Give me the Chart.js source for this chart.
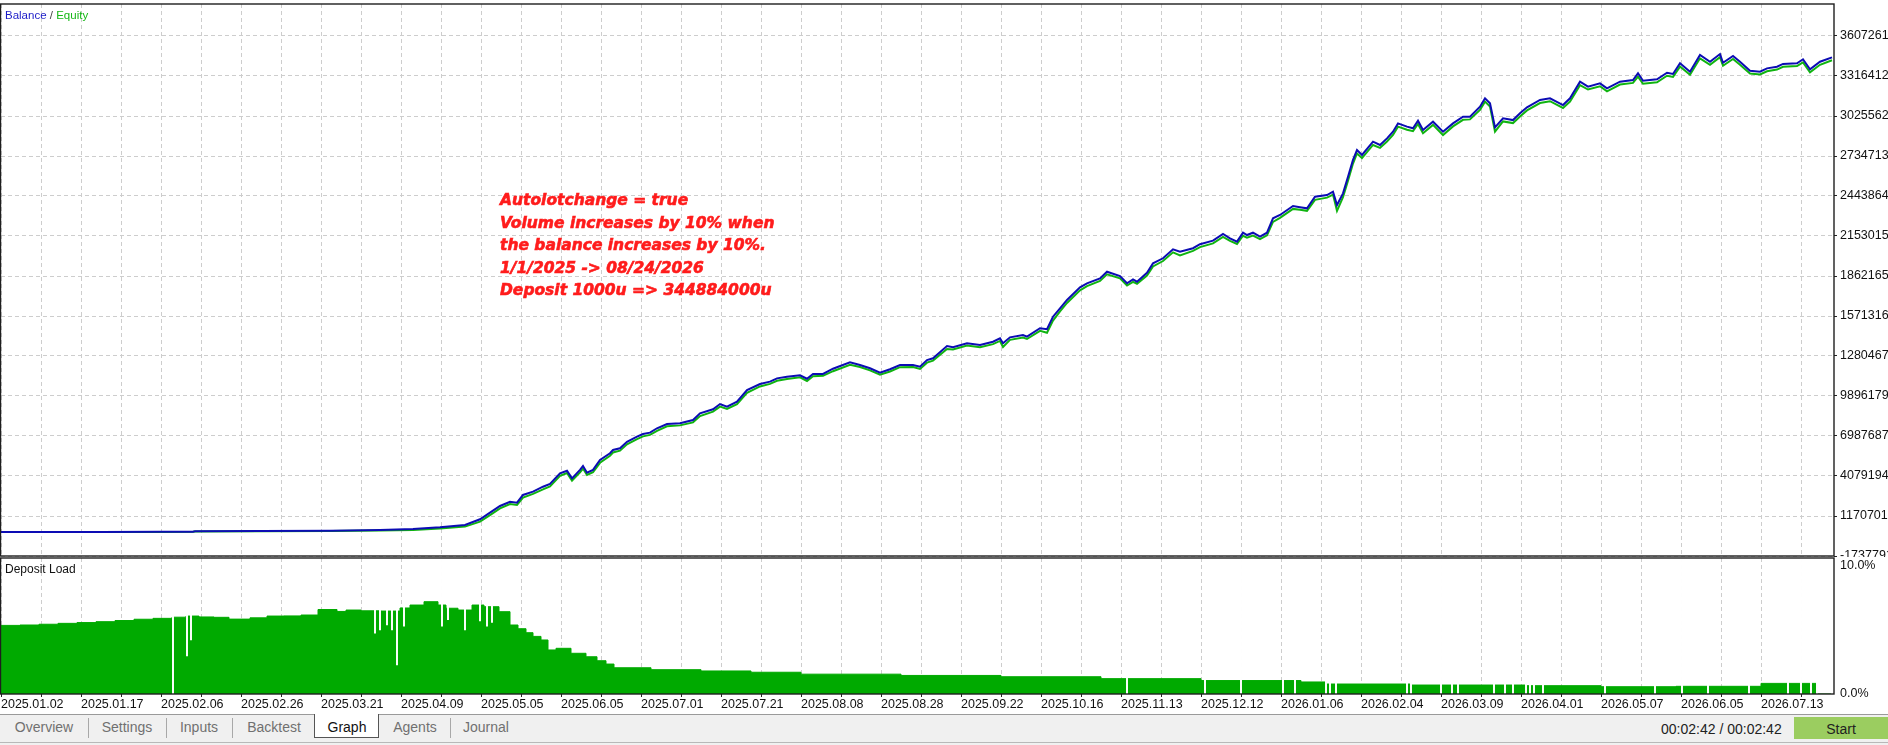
<!DOCTYPE html>
<html>
<head>
<meta charset="utf-8">
<script src="https://cdn.jsdelivr.net/npm/chart.js@4.4.1/dist/chart.umd.min.js"></script>
<style>
html,body{margin:0;padding:0;background:#fff;}
body{width:1888px;height:745px;position:relative;overflow:hidden;font-family:'Liberation Sans',Arial,sans-serif;}
#topWrap{position:absolute;left:0;top:0;width:1888px;height:557px;}
#botWrap{position:absolute;left:0;top:556px;width:1888px;height:157px;}
.lbl{position:absolute;white-space:nowrap;z-index:5;}
#legend{left:5px;top:8px;font-size:11.5px;line-height:14px;}
#note{left:500px;top:189px;font-family:'DejaVu Sans',sans-serif;font-weight:bold;font-style:italic;font-size:15.5px;line-height:22.5px;color:#ff1c1c;-webkit-text-stroke:0.6px #ff1c1c;}
#dl{left:5px;top:562px;font-size:12px;line-height:14px;color:#111;}
#tabbar{position:absolute;left:0;top:714px;width:1888px;height:31px;background:#f0f0f0;border-top:1px solid #9a9a9a;box-sizing:border-box;z-index:3;}
#tabbot{position:absolute;left:0;top:742px;width:1888px;height:1px;background:#b8b8b8;z-index:4;}
.tab{position:absolute;top:719px;width:110px;text-align:center;font-size:14px;line-height:16px;color:#707070;z-index:6;}
.sep{position:absolute;top:718px;width:1px;height:20px;background:#a8a8a8;z-index:6;}
#gtab{position:absolute;left:314px;top:714px;width:65px;height:24px;background:#fff;border-left:1px solid #555;border-right:1px solid #555;border-bottom:1px solid #555;box-sizing:border-box;z-index:5;}
#time{left:1661px;top:721px;font-size:14px;line-height:16px;color:#222;}
#start{position:absolute;left:1794px;top:717px;width:94px;height:22px;background:#9bcd60;text-align:center;font-size:14px;line-height:22px;padding-top:1px;box-sizing:border-box;color:#222;z-index:6;}
</style>
</head>
<body>
<div id="topWrap"><canvas id="cTop"></canvas></div>
<div id="botWrap"><canvas id="cBot"></canvas></div>

<div class="lbl" id="legend"><span style="color:#1c1cc8">Balance</span> <span style="color:#444">/</span> <span style="color:#16b816">Equity</span></div>
<div class="lbl" id="note">Autolotchange = true<br>Volume increases by 10% when<br>the balance increases by 10%.<br>1/1/2025 -&gt; 08/24/2026<br>Deposit 1000u =&gt; 344884000u</div>
<div class="lbl" id="dl">Deposit Load</div>

<div id="tabbar"></div>
<div id="tabbot"></div>
<div id="gtab"></div>
<div class="tab" style="left:-11px">Overview</div>
<div class="sep" style="left:88px"></div>
<div class="tab" style="left:72px">Settings</div>
<div class="sep" style="left:166px"></div>
<div class="tab" style="left:144px">Inputs</div>
<div class="sep" style="left:232px"></div>
<div class="tab" style="left:219px">Backtest</div>
<div class="tab" style="left:292px;color:#111">Graph</div>
<div class="tab" style="left:360px">Agents</div>
<div class="sep" style="left:450px"></div>
<div class="tab" style="left:431px">Journal</div>
<div class="lbl" id="time">00:02:42 / 00:02:42</div>
<div id="start">Start</div>

<script>
// ---------- DATA ----------
const dateLabels = ['2025.01.02','2025.01.17','2025.02.06','2025.02.26','2025.03.21','2025.04.09','2025.05.05','2025.06.05','2025.07.01','2025.07.21','2025.08.08','2025.08.28','2025.09.22','2025.10.16','2025.11.13','2025.12.12','2026.01.06','2026.02.04','2026.03.09','2026.04.01','2026.05.07','2026.06.05','2026.07.13'];

// balance axis ticks (millions of units)
const yTickVals = [-17.37791, 11.70701, 40.79194, 69.87687, 98.96179, 128.0467, 157.1316, 186.2165, 215.3015, 244.3864, 273.4713, 302.5562, 331.6412, 360.7261];
const yTickLabels = ['-17377910','11707010','40791940','69876870','98961790','128046700','157131600','186216500','215301500','244386400','273471300','302556200','331641200','360726100'];

// deal index (x) and balance / equity (millions of units)
const balX = [0,40,100,160,192,194,260,330,379,
 412,439,464,479,489,499,509,516,522,532,542,549,559,566,571,579,582,586,592,599,609,612,619,626,636,642,649,656,666,679,692,699,712,719,726,736,746,759,769,776,786,799,806,812,822,832,849,859,869,879,889,899,
 912,919,926,932,946,952,966,979,992,999,1002,1009,1022,1026,1039,1046,1052,1059,1066,1079,1086,1099,1106,1119,1126,1132,1136,1146,1152,1162,1172,1179,1192,1199,1212,1222,1229,1236,1242,1246,1252,1259,1266,1272,1279,1292,1299,1306,1314,1326,1332,1336,1342,1347,1352,1356,1361,1372,1379,1386,1392,
 1397,1406,1412,1417,1422,1432,1442,1452,1462,1469,1479,1484,1489,1494,1502,1512,1519,1526,1539,1549,1562,1569,1579,1587,1599,1606,1619,1632,1637,1642,1656,1666,1672,1679,1689,1699,1709,1719,1722,1732,1739,1749,1759,1766,1776,1782,1796,1802,1809,1819,1831];
const balY = [0.001,0.05,0.1,0.2,0.25,0.6,0.75,1.0,1.5,
 2.3,3.5,5.2,9.3,14.1,19.0,22.1,21.4,27.0,29.4,33.0,35.0,42.8,44.6,39.1,45.2,48.1,43.2,45.2,52.4,57.3,59.7,60.9,65.7,69.4,71.3,72.3,75.5,78.6,79.1,81.5,86.4,89.3,93.1,91.2,94.8,103.3,107.7,109.4,111.8,113.0,114.0,111.5,115.0,115.0,118.8,123.5,121.5,119.1,115.9,118.4,121.5,
 121.5,120.3,125.1,126.4,135.3,134.4,137.3,136.0,138.4,140.9,137.3,141.6,143.3,142.1,148.2,147.5,156.6,162.7,168.8,178.0,180.9,184.5,189.3,186.2,180.9,183.8,182.1,188.6,195.4,199.1,205.6,203.9,206.4,209.3,211.9,216.8,213.6,211.2,217.7,216.0,217.7,214.8,217.7,228.2,230.6,237.1,236.2,235.4,243.9,245.1,247.5,237.8,246.3,258.4,270.6,277.8,274.2,283.9,281.5,286.3,291.1,
 297.2,294.8,293.6,299.1,292.4,298.4,291.1,297.2,302.0,302.0,309.3,315.4,311.8,294.3,300.9,299.6,304.5,308.9,314.2,315.4,310.5,315.4,327.5,323.9,326.3,322.7,327.5,328.7,333.6,328.2,329.2,334.0,333.1,340.9,334.8,346.9,342.0,347.6,341.3,346.2,342.0,335.5,334.8,337.2,338.4,340.4,340.9,343.8,336.5,342.0,345.2];
const eqY = [0.001,0.05,0.1,0.15,0.2,0.45,0.6,0.8,1.2,
 1.6,2.6,4.0,7.6,12.3,17.2,20.4,19.8,25.1,27.8,31.1,33.2,40.9,43.0,37.4,43.4,46.2,41.5,43.5,50.4,55.5,57.9,59.2,63.8,67.6,69.6,70.7,73.6,76.9,77.6,79.8,84.4,87.6,91.2,89.5,93.0,101.2,105.9,107.8,110.0,111.4,112.5,109.9,113.3,113.6,117.0,121.6,120.0,117.6,114.4,116.8,119.9,
 120.0,118.6,123.2,124.7,133.2,132.8,135.6,134.4,136.7,139.0,134.6,139.8,141.5,140.4,146.3,144.9,153.8,160.5,166.6,175.8,178.9,182.6,187.4,184.5,179.3,182.0,180.6,186.5,193.2,197.1,203.4,201.2,204.5,207.2,209.9,214.6,211.8,209.5,215.5,214.1,215.6,213.0,215.8,225.6,228.5,235.0,234.4,233.6,241.6,243.2,245.4,233.6,243.5,255.5,268.0,275.3,272.0,281.5,279.4,284.0,288.8,
 294.8,292.6,291.5,296.8,290.0,296.1,288.7,295.0,299.8,300.1,307.0,313.0,309.5,291.2,298.6,297.4,302.2,306.6,312.0,313.3,308.4,313.1,325.0,321.8,324.2,320.5,325.4,326.6,331.2,326.0,327.1,331.8,331.0,338.5,332.6,344.5,339.8,345.3,339.1,344.0,339.9,333.4,332.8,335.1,336.3,338.3,338.9,341.6,334.3,339.8,343.1];

// deposit load (%)
const loadX = [0,19,38,57,76,95,114,133,152,171,185,198,213,228,249,266,283,300,317,336,345,360,380,399,409,423,437,445,457,471,483,498,509,517,525,532,540,547,555,570,585,596,605,613,650,700,750,800,900,1000,1100,1200,1300,1325,1410,1524,1600,1675,1760,1816,1830];
const loadY = [5.31,5.36,5.39,5.45,5.52,5.58,5.65,5.74,5.84,5.91,6.0,6.09,6.02,5.99,5.85,5.95,6.09,6.1,6.17,6.6,6.45,6.56,6.5,6.48,6.72,6.95,7.21,6.95,6.70,6.56,6.95,6.82,6.43,5.39,5.1,4.79,4.5,4.22,3.44,3.57,3.18,2.91,2.6,2.34,2.05,1.9,1.8,1.7,1.55,1.45,1.35,1.2,1.05,0.94,0.78,0.70,0.65,0.57,0.6,0.83,0];
// deals with lower load (drawn as white notches)
const gapX = [172,186,190,374,379,386,391,396,403,441,447,464,479,486,491,1126,1204,1240,1282,1294,1325,1329,1335,1406,1410,1440,1451,1457,1493,1504,1512,1525,1529,1533,1542,1604,1654,1681,1707,1748,1787,1800,1810,1816];
const gapLow = [0,2.97,4.22,4.76,5.0,5.4,5.0,2.27,5.3,5.3,5.8,5.0,5.7,5.3,5.6,0,0,0,0,0,0,0,0,0,0,0,0,0,0,0,0,0,0,0,0,0,0,0,0,0,0,0,0,0];
const loadTickVals = [0, 10];
const loadTickLabels = ['0.0%', '10.0%'];

// ---------- AXIS SETUP ----------
const X_MAX = 1833;
const Y_MIN = -17.37791, Y_MAX = 383.994;
const LOAD_MAX = 10.625;
const gridX = [];
for (let v = 0; v <= 1800; v += 40) gridX.push(v);

Chart.defaults.font.family = "'Liberation Sans', Arial, sans-serif";
const AXFONT = {family:"'Liberation Sans', Arial, sans-serif", size:12.5};
const GRIDC = '#cdcdcd';

const framePlugin = {
  id:'frame',
  afterDraw(chart){
    const {ctx, chartArea:a} = chart;
    ctx.save();
    ctx.strokeStyle = '#1e1e1e';
    ctx.lineWidth = 1.4;
    ctx.setLineDash([]);
    ctx.strokeRect(a.left - 0.5, a.top, a.right - a.left + 0.5, a.bottom - a.top);
    ctx.restore();
  }
};

const balPts = balX.map((x,i)=>({x:x, y:balY[i]}));
const eqPts = balX.map((x,i)=>({x:x, y:eqY[i]}));
const loadPts = loadX.map((x,i)=>({x:x, y:loadY[i]}));
const gapPts = gapX.map((x,i)=>({x:x, y:[gapLow[i], LOAD_MAX]}));

new Chart(document.getElementById('cTop'), {
  type:'line',
  data:{datasets:[
    {label:'Equity', data:eqPts, borderColor:'#10b410', borderWidth:2, pointRadius:0, tension:0, order:2},
    {label:'Balance', data:balPts, borderColor:'#0c0cb4', borderWidth:2, pointRadius:0, tension:0, order:1}
  ]},
  options:{
    animation:false, responsive:true, maintainAspectRatio:false,
    layout:{padding:{left:1, top:4, right:0, bottom:0}},
    plugins:{legend:{display:false}, tooltip:{enabled:false}},
    scales:{
      x:{type:'linear', min:0, max:X_MAX,
         afterBuildTicks:s=>{s.ticks = gridX.map(v=>({value:v}));},
         afterFit:s=>{s.height = 1; s.paddingLeft = 0; s.paddingRight = 0;},
         ticks:{display:false},
         grid:{color:GRIDC, lineWidth:1, drawTicks:false},
         border:{display:false, dash:[4,3]}},
      y:{position:'right', min:Y_MIN, max:Y_MAX,
         afterBuildTicks:s=>{s.ticks = yTickVals.map(v=>({value:v}));},
         afterFit:s=>{s.width = 54; s.paddingTop = 0; s.paddingBottom = 0;},
         ticks:{autoSkip:false, padding:3, color:'#111', font:AXFONT, callback:(v,i)=>yTickLabels[i]},
         grid:{color:GRIDC, lineWidth:1, tickLength:3, tickColor:'#222', tickWidth:1, tickBorderDash:[]},
         border:{display:false, dash:[4,3]}}
    }
  },
  plugins:[framePlugin]
});

new Chart(document.getElementById('cBot'), {
  type:'line',
  data:{datasets:[
    {type:'bar', label:'gaps', data:gapPts, backgroundColor:'#ffffff', borderWidth:0, barThickness:1.3, grouped:false, order:1},
    {type:'line', label:'Deposit Load', data:loadPts, stepped:'after', fill:'origin', backgroundColor:'#00aa00', borderColor:'#00aa00', borderWidth:1, pointRadius:0, order:2}
  ]},
  options:{
    animation:false, responsive:true, maintainAspectRatio:false,
    layout:{padding:{left:1, top:2, right:0, bottom:0}},
    plugins:{legend:{display:false}, tooltip:{enabled:false}},
    scales:{
      x:{type:'linear', min:0, max:X_MAX, offset:false,
         afterBuildTicks:s=>{s.ticks = gridX.map(v=>({value:v}));},
         afterFit:s=>{s.height = 19; s.paddingLeft = 0; s.paddingRight = 0;},
         ticks:{autoSkip:false, maxRotation:0, minRotation:0, align:'start', padding:0, color:'#111', font:AXFONT,
                callback:(v,i)=> (i % 2 === 0 ? (dateLabels[i/2] || '') : '')},
         grid:{color:GRIDC, lineWidth:1, offset:false, tickLength:3, tickColor:'#222', tickWidth:1, tickBorderDash:[]},
         border:{display:false, dash:[4,3]}},
      y:{position:'right', min:0, max:LOAD_MAX,
         afterBuildTicks:s=>{s.ticks = loadTickVals.map(v=>({value:v}));},
         afterFit:s=>{s.width = 54; s.paddingTop = 0; s.paddingBottom = 0;},
         ticks:{autoSkip:false, padding:6, color:'#111', font:AXFONT, callback:(v,i)=>loadTickLabels[i]},
         grid:{display:false, drawTicks:false},
         border:{display:false}}
    }
  },
  plugins:[framePlugin]
});
</script>
</body>
</html>
